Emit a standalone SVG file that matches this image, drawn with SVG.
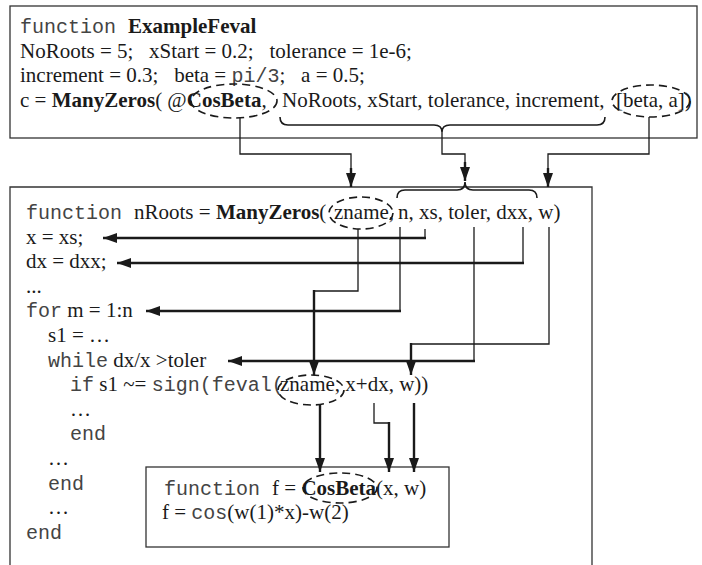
<svg xmlns="http://www.w3.org/2000/svg" width="702" height="565" viewBox="0 0 702 565">
<defs>
<style>
.t{font-family:"Liberation Serif","Times New Roman",serif;font-size:21px;fill:#1a1a1a;white-space:pre}
.m{font-family:"Liberation Mono","Courier New",monospace;font-size:20px;fill:#444}
.b{font-weight:bold}
.box{fill:#fff;stroke:#333;stroke-width:1.3}
.frame{fill:none;stroke:#333;stroke-width:1.3}
.thin{fill:none;stroke:#1a1a1a;stroke-width:1.3}
.thick{fill:none;stroke:#1a1a1a;stroke-width:2.4}
.dash{fill:none;stroke:#1a1a1a;stroke-width:1.6;stroke-dasharray:8 5}
.brace{fill:none;stroke:#1a1a1a;stroke-width:1.6}
</style>
<marker id="ah" viewBox="0 0 14 10" refX="14" refY="5" markerWidth="14" markerHeight="10" markerUnits="userSpaceOnUse" orient="auto">
<path d="M0,0 L14,5 L0,10 z" fill="#1a1a1a"/>
</marker>
</defs>
<rect width="702" height="565" fill="#fff"/>

<g id="exampleFeval">
<rect class="box" x="10" y="6" width="687" height="132"/>
<text class="t" x="20" y="33"><tspan class="m">function </tspan><tspan class="b">ExampleFeval</tspan></text>
<text class="t" x="20" y="58">NoRoots = 5;   xStart = 0.2;   tolerance = 1e-6;</text>
<text class="t" x="20" y="82">increment = 0.3;   beta = <tspan class="m">pi/3</tspan>;   a = 0.5;</text>
<text class="t" x="20" y="107">c = <tspan class="b">ManyZeros</tspan>( @<tspan class="b">CosBeta</tspan>,</text>
<text class="t" x="282" y="107">NoRoots, xStart, tolerance, increment,</text>
<text class="t" x="616" y="107">[beta, a])</text>
<ellipse class="dash" cx="234" cy="101" rx="43" ry="17"/>
<ellipse class="dash" cx="651" cy="101" rx="39" ry="16"/>
<path class="brace" d="M280,117 Q280,125 288,125 L434,125 Q442,125 442,132 Q442,125 450,125 L597,125 Q605,125 605,117"/>
</g>

<g id="manyZeros">
<path class="frame" d="M10,570 V187 H592 V570"/>
<text class="t" x="26" y="219"><tspan class="m">function </tspan>nRoots = <tspan class="b">ManyZeros</tspan>(</text>
<text class="t" x="334" y="219">zname,</text>
<text class="t" x="398" y="219">n, xs, toler, dxx, w)</text>
<ellipse class="dash" cx="361" cy="213" rx="32" ry="16"/>
<path class="brace" d="M397,198 Q397,190 405,190 L457,190 Q465,190 465,182 Q465,190 473,190 L529,190 Q537,190 537,198"/>
<text class="t" x="26" y="243.6">x = xs;</text>
<text class="t" x="26" y="268.2">dx = dxx;</text>
<text class="t" x="26" y="292.8">...</text>
<text class="t" x="26" y="317.4"><tspan class="m">for</tspan> m = 1:n</text>
<text class="t" x="48" y="342">s1 = …</text>
<text class="t" x="48" y="366.6"><tspan class="m">while</tspan> dx/x &gt;toler</text>
<text class="t" x="70" y="391.2"><tspan class="m">if</tspan> s1 ~= <tspan class="m">sign(feval(</tspan></text>
<text class="t" x="280" y="391.2">zname, x+dx, w))</text>
<ellipse class="dash" cx="311" cy="390" rx="33" ry="15"/>
<text class="t" x="70" y="415.8">…</text>
<text class="t" x="70" y="440.4"><tspan class="m">end</tspan></text>
<text class="t" x="48" y="465">…</text>
<text class="t" x="48" y="489.6"><tspan class="m">end</tspan></text>
<text class="t" x="48" y="514.2">…</text>
<text class="t" x="26" y="538.8"><tspan class="m">end</tspan></text>
</g>

<g id="cosBeta">
<rect class="box" x="146" y="467" width="303" height="80"/>
<text class="t" x="164" y="495"><tspan class="m">function </tspan>f = <tspan class="b">CosBeta</tspan>(x, w)</text>
<text class="t" x="162" y="519">f = <tspan class="m">cos</tspan>(w(1)*x)-w(2)</text>
<ellipse class="dash" cx="340" cy="488" rx="37" ry="15"/>
</g>

<g id="connectors">
<path class="thin" d="M240,118 V154 H351 V170"/>
<path class="thick" d="M351,168 V187" marker-end="url(#ah)"/>
<path class="thin" d="M442,132 V154 H465 V164"/>
<path class="thick" d="M465,162 V181" marker-end="url(#ah)"/>
<path class="thin" d="M649,117 V154 H548 V170"/>
<path class="thick" d="M548,168 V187" marker-end="url(#ah)"/>

<path class="thin" d="M425,229 V238"/>
<path class="thick" d="M426,238 H103" marker-end="url(#ah)"/>
<path class="thin" d="M523,227 V263"/>
<path class="thick" d="M524,263 H117" marker-end="url(#ah)"/>
<path class="thin" d="M400,227 V311"/>
<path class="thick" d="M401,311 H146" marker-end="url(#ah)"/>
<path class="thin" d="M474,227 V361"/>
<path class="thick" d="M475,361 H228" marker-end="url(#ah)"/>
<path class="thin" d="M358,229 V291 H314"/>
<path class="thick" d="M314,290 V375" marker-end="url(#ah)"/>
<path class="thin" d="M549,227 V344 H411"/>
<path class="thick" d="M411,343 V375" marker-end="url(#ah)"/>

<path class="thick" d="M320,405 V472" marker-end="url(#ah)"/>
<path class="thin" d="M374,403 V423 H389"/>
<path class="thick" d="M389,422 V472" marker-end="url(#ah)"/>
<path class="thick" d="M414,403 V472" marker-end="url(#ah)"/>
</g>
</svg>
